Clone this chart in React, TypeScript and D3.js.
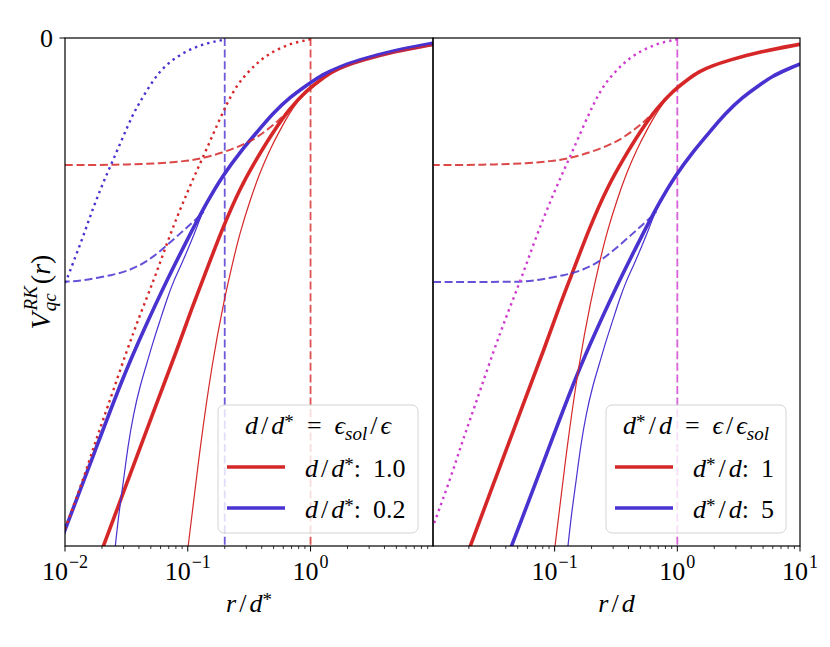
import * as d3 from "d3";

type Pt = [number, number];

// x: r/d* (the blue curves are d/d* = 0.2), y: V in units where the frame bottom is -4
const redThick: Pt[] = [
  [0.0186, -4.11], [0.0204, -4.01], [0.0326, -3.48], [0.0521, -2.953], [0.0834, -2.433],
  [0.1104, -2.102], [0.1332, -1.9], [0.194, -1.485], [0.2668, -1.181], [0.367, -0.945],
  [0.4956, -0.74], [0.6821, -0.551], [0.938, -0.409], [1.197, -0.331], [1.528, -0.26],
  [1.914, -0.22], [2.585, -0.177], [4.8, -0.106], [9.79, -0.051], [10, -0.05],
];
const redThin: Pt[] = [
  [0.098, -4.1], [0.1006, -4.008], [0.1259, -3.22], [0.1578, -2.559], [0.1976, -2.063],
  [0.2296, -1.787], [0.2668, -1.528], [0.3219, -1.276], [0.3883, -1.055], [0.4685, -0.874],
  [0.5651, -0.724], [0.6821, -0.583], [0.8228, -0.472], [1.011, -0.402], [1.197, -0.331],
  [1.528, -0.26], [1.914, -0.22], [2.585, -0.177], [4.8, -0.106], [10, -0.05],
];
const redDashed: Pt[] = [
  [0.01, -1.0], [0.0193, -1.0], [0.032, -0.996], [0.0594, -0.988], [0.0951, -0.969],
  [0.1259, -0.953], [0.194, -0.902], [0.2668, -0.85], [0.3404, -0.803], [0.4429, -0.724],
  [0.5342, -0.661], [0.6448, -0.583], [0.735, -0.52],
];
const redDotted: Pt[] = [
  [0.01, -3.866], [0.01058, -3.803], [0.01402, -3.48], [0.01789, -3.165], [0.0204, -3.008],
  [0.02461, -2.78], [0.032, -2.457], [0.0408, -2.181], [0.04635, -2.047], [0.05117, -1.937],
  [0.05621, -1.835], [0.0678, -1.614], [0.0818, -1.409], [0.0987, -1.22], [0.1191, -1.039],
  [0.1437, -0.866], [0.1733, -0.685], [0.2091, -0.512], [0.2522, -0.37], [0.3042, -0.276],
  [0.367, -0.197], [0.4429, -0.134], [0.5651, -0.079], [0.7213, -0.039], [0.938, -0.016],
  [1.0, -0.01],
];
const blueThick: Pt[] = [
  [0.00845, -4.055], [0.00887, -4.005], [0.01, -3.874], [0.01756, -3.252], [0.02964, -2.669],
  [0.04487, -2.276], [0.06767, -1.906], [0.0969, -1.606], [0.1434, -1.289], [0.194, -1.079],
  [0.2668, -0.898], [0.367, -0.74], [0.4956, -0.591], [0.6821, -0.465], [0.938, -0.37],
  [1.197, -0.299], [1.528, -0.252], [1.988, -0.205], [2.585, -0.169], [4.8, -0.098],
  [9.79, -0.043], [10, -0.042],
];
const blueThin: Pt[] = [
  [0.02536, -4.047], [0.02566, -4.006], [0.02754, -3.732], [0.03003, -3.48], [0.03261, -3.205],
  [0.03622, -2.955], [0.0408, -2.74], [0.04651, -2.561], [0.0521, -2.394], [0.0597, -2.22],
  [0.06767, -2.055], [0.07673, -1.913], [0.08688, -1.803], [0.1117, -1.559], [0.1305, -1.378],
  [0.1519, -1.26], [0.194, -1.08], [0.2668, -0.899], [0.367, -0.741], [0.4956, -0.592],
  [0.6821, -0.466], [0.938, -0.371], [1.197, -0.3], [1.528, -0.253], [1.988, -0.206],
  [2.585, -0.17], [4.8, -0.099], [10, -0.043],
];
const blueDashed: Pt[] = [
  [0.00204, -1.921], [0.01, -1.921], [0.0133, -1.913], [0.02489, -1.866], [0.034, -1.827],
  [0.04651, -1.761], [0.06362, -1.656], [0.08688, -1.538], [0.1117, -1.446], [0.1348, -1.368],
];
const blueDotted: Pt[] = [
  [0.01, -1.929], [0.01038, -1.898], [0.01162, -1.772], [0.01402, -1.567], [0.01691, -1.339],
  [0.0204, -1.142], [0.02461, -0.961], [0.0297, -0.78], [0.0358, -0.598], [0.0408, -0.504],
  [0.0493, -0.37], [0.0594, -0.26], [0.0759, -0.165], [0.1044, -0.087], [0.1437, -0.039],
  [0.2014, -0.012],
];

// right panel is plotted against r/d, and d*/d = 5 for the blue set
const dStarOverD = 5;
const leftRatios = ["1.0", "0.2"];
const rightRatios = ["1", "5"];
const leftVlines = [0.2, 1];
const rightVlines = [1];

const RED = "#d62728";
const BLUE = "#4832d0";
const MAGENTA = "#d03ad0";
const FONT = "Liberation Serif, DejaVu Serif, serif";

const TOP = 38;
const BOTTOM = 546;
const y = d3.scaleLinear().domain([-4, 0]).range([BOTTOM, TOP]);

type Series = { data: Pt[]; color: string; kind: "thick" | "thin" | "dashed" | "dotted" };

const styleOf: Record<string, { w: number; dash?: string; op: number }> = {
  thick: { w: 3.6, op: 1 },
  thin: { w: 1.2, op: 1 },
  dashed: { w: 2, dash: "8 3.6", op: 0.85 },
  dotted: { w: 2.4, dash: "2.4 4", op: 1 },
};

function Panel({ id, x0, x1, domain, labels, series, vlines, xlabel }: {
  id: string; x0: number; x1: number; domain: [number, number]; labels: number[];
  series: Series[]; vlines: { v: number; color: string }[]; xlabel: JSX.Element;
}) {
  const x = d3.scaleLog().domain(domain).range([x0, x1]);
  const line = d3.line<Pt>().x((d) => x(d[0])).y((d) => y(d[1])).curve(d3.curveBasis);
  const minor: number[] = [];
  for (let k = -3; k <= 1; k++) {
    for (let m = 2; m <= 9; m++) {
      const v = m * Math.pow(10, k);
      if (v >= domain[0] && v <= domain[1]) minor.push(v);
    }
  }
  return (
    <g>
      <defs>
        <clipPath id={id}>
          <rect x={x0} y={TOP} width={x1 - x0} height={BOTTOM - TOP} />
        </clipPath>
      </defs>
      <g clipPath={`url(#${id})`}>
        {vlines.map((l, i) => (
          <line key={i} x1={x(l.v)} x2={x(l.v)} y1={TOP} y2={BOTTOM} stroke={l.color}
            strokeWidth={1.8} strokeDasharray="8 3.6" opacity={0.8} />
        ))}
        {series.map((s, i) => {
          const st = styleOf[s.kind];
          return (
            <path key={i} d={line(s.data) ?? ""} fill="none" stroke={s.color}
              strokeWidth={st.w} strokeDasharray={st.dash} opacity={st.op} />
          );
        })}
      </g>
      <rect x={x0} y={TOP} width={x1 - x0} height={BOTTOM - TOP} fill="none" stroke="#000" strokeWidth={1.2} />
      {minor.map((v, i) => (
        <line key={i} x1={x(v)} x2={x(v)} y1={BOTTOM} y2={BOTTOM + 3} stroke="#000" strokeWidth={0.8} />
      ))}
      {labels.map((v, i) => (
        <g key={i}>
          <line x1={x(v)} x2={x(v)} y1={BOTTOM} y2={BOTTOM + 5.5} stroke="#000" strokeWidth={1} />
          <text x={x(v)} y={580} textAnchor="middle" fontSize={26} fontFamily={FONT}>
            10<tspan dy={-12} dx={1} fontSize={18}>{v < 1 ? "\u2212" + Math.round(-Math.log10(v)) : String(Math.round(Math.log10(v)))}</tspan>
          </text>
        </g>
      ))}
      <text x={(x0 + x1) / 2} y={612} textAnchor="middle" fontSize={26} fontFamily={FONT}>{xlabel}</text>
    </g>
  );
}

function Legend({ x0, x1, title, entries, textX }: {
  x0: number; x1: number; title: JSX.Element; entries: { color: string; label: JSX.Element }[]; textX: number;
}) {
  return (
    <g fontFamily={FONT} fontSize={26}>
      <rect x={x0} y={405} width={x1 - x0} height={128} rx={6} fill="#fff" fillOpacity={0.8}
        stroke="#d4d4d4" strokeWidth={1} />
      <text x={(x0 + x1) / 2} y={434} textAnchor="middle">{title}</text>
      {entries.map((e, i) => (
        <g key={i}>
          <line x1={x0 + 9} x2={x0 + 67} y1={467 + i * 41} y2={467 + i * 41} stroke={e.color} strokeWidth={3.6} />
          <text x={textX} y={477 + i * 41}>{e.label}</text>
        </g>
      ))}
    </g>
  );
}

const I = ({ t, dx }: { t: string; dx?: number }) => <tspan fontStyle="italic" dx={dx}>{t}</tspan>;
const Slash = () => <tspan dx={3}>/</tspan>;
const Star = () => (
  <>
    <tspan dy={-6} fontSize={19}>*</tspan>
    <tspan dy={6} fontSize={1}>{"\u200a"}</tspan>
  </>
);

export default function App() {
  const scaleR = (pts: Pt[]): Pt[] => pts.map(([r, v]) => [r * dStarOverD, v]);
  const leftSeries: Series[] = [
    { data: redThick, color: RED, kind: "thick" },
    { data: blueThick, color: BLUE, kind: "thick" },
    { data: redThin, color: RED, kind: "thin" },
    { data: blueThin, color: BLUE, kind: "thin" },
    { data: redDashed, color: RED, kind: "dashed" },
    { data: blueDashed, color: BLUE, kind: "dashed" },
    { data: redDotted, color: RED, kind: "dotted" },
    { data: blueDotted, color: BLUE, kind: "dotted" },
  ];
  const rightSeries: Series[] = [
    { data: redThick, color: RED, kind: "thick" },
    { data: scaleR(blueThick), color: BLUE, kind: "thick" },
    { data: redThin, color: RED, kind: "thin" },
    { data: scaleR(blueThin), color: BLUE, kind: "thin" },
    { data: redDashed, color: RED, kind: "dashed" },
    { data: scaleR(blueDashed), color: BLUE, kind: "dashed" },
    { data: redDotted, color: MAGENTA, kind: "dotted" },
  ];
  return (
    <svg width={830} height={647} style={{ position: "absolute", left: 0, top: 0, background: "#fff" }}>
      <Panel id="clipL" x0={65} x1={433} domain={[0.01, 9.94]} labels={[0.01, 0.1, 1]}
        series={leftSeries}
        vlines={[{ v: leftVlines[0], color: BLUE }, { v: leftVlines[1], color: RED }]}
        xlabel={<><I t="r" /><Slash /><I t="d" dx={3} /><Star /></>} />
      <Panel id="clipR" x0={433} x1={800} domain={[0.0102, 10]} labels={[0.1, 1, 10]}
        series={rightSeries}
        vlines={[{ v: rightVlines[0], color: MAGENTA }]}
        xlabel={<><I t="r" /><Slash /><I t="d" dx={3} /></>} />
      {/* y axis: single tick at 0 */}
      <line x1={59.5} x2={65} y1={TOP} y2={TOP} stroke="#000" strokeWidth={1} />
      <text x={53} y={TOP + 9} textAnchor="end" fontSize={26} fontFamily={FONT}>0</text>
      <text transform="translate(50,292) rotate(-90)" textAnchor="middle" fontSize={28} fontFamily={FONT}>
        <I t="V" />
        <tspan fontStyle="italic" fontSize={19} dy={6} dx={1}>qc</tspan>
        <tspan fontStyle="italic" fontSize={19} dx={-17} dy={-19}>RK</tspan>
        <tspan dy={13} dx={2}>(</tspan><I t="r" />)
      </text>
      <Legend x0={218} x1={418} textX={305}
        title={<><I t="d" /><Slash /><I t="d" dx={3} /><Star /><tspan dx={13}>=</tspan>
          <tspan dx={13} fontStyle="italic">ϵ</tspan><tspan fontStyle="italic" fontSize={19} dy={6}>sol</tspan>
          <tspan dy={-6} dx={3}>/</tspan><I t="ϵ" dx={3} /></>}
        entries={leftRatios.map((r, i) => ({
          color: i === 0 ? RED : BLUE,
          label: <><I t="d" /><Slash /><I t="d" dx={3} /><Star /><tspan>:</tspan><tspan dx={12}>{r}</tspan></>,
        }))} />
      <Legend x0={606} x1={786} textX={693}
        title={<><I t="d" /><Star /><Slash /><I t="d" dx={3} /><tspan dx={13}>=</tspan>
          <tspan dx={13} fontStyle="italic">ϵ</tspan><Slash /><I t="ϵ" dx={3} /><tspan fontStyle="italic" fontSize={19} dy={6}>sol</tspan></>}
        entries={rightRatios.map((r, i) => ({
          color: i === 0 ? RED : BLUE,
          label: <><I t="d" /><Star /><Slash /><I t="d" dx={3} /><tspan>:</tspan><tspan dx={12}>{r}</tspan></>,
        }))} />
    </svg>
  );
}
